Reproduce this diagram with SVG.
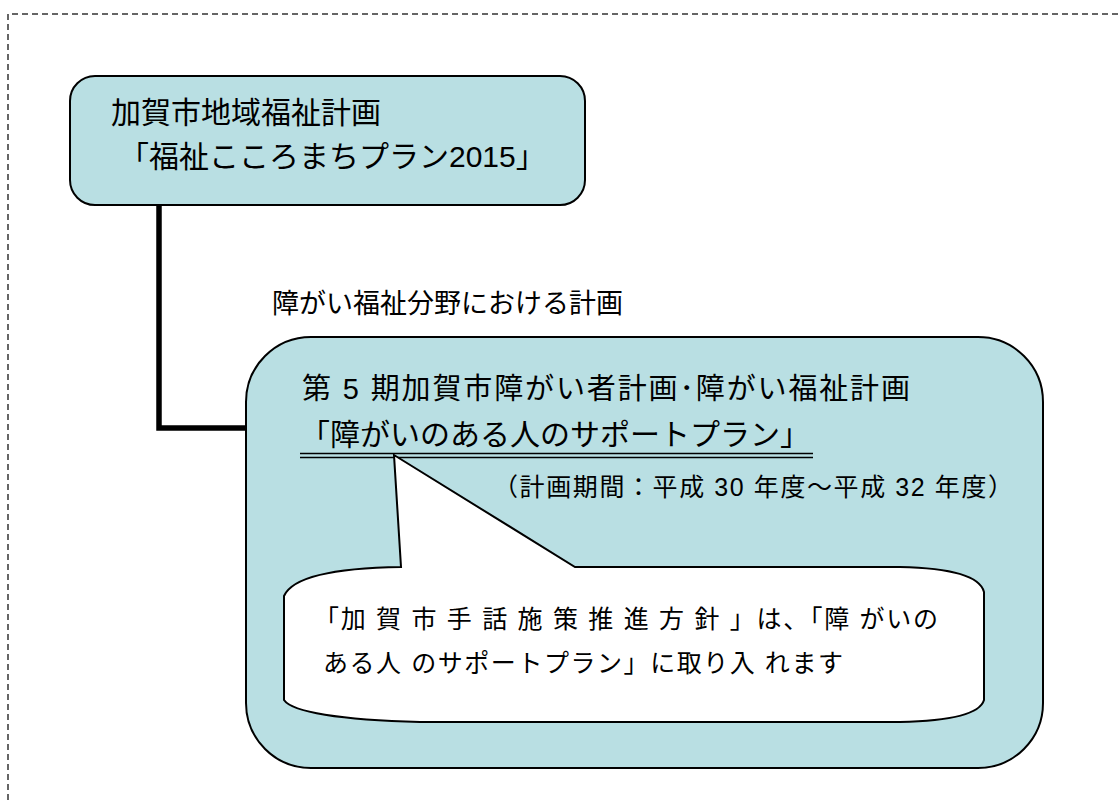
<svg xmlns="http://www.w3.org/2000/svg" width="1118" height="800" viewBox="0 0 1118 800">
<style>
.t{font-family:"Liberation Sans","Noto Sans CJK JP",sans-serif;fill:#000}
.box{fill:#B9DFE3;stroke:#000;stroke-width:2}
</style>
<rect width="1118" height="800" fill="#fff"/>
<path d="M8,800 V14 H1118" fill="none" stroke="#333" stroke-width="1.5" stroke-dasharray="6 4"/>
<g id="connectors">
<path d="M159,205 V428 H246" fill="none" stroke="#000" stroke-width="5.5"/>
</g>
<g id="node-top">
<rect class="box" x="70" y="76" width="515" height="129" rx="25"/>
<text class="t" x="111" y="123" font-size="30">加賀市地域福祉計画</text>
<text class="t" x="119" y="167" font-size="30">「福祉こころまちプラン2015」</text>
</g>
<g id="label">
<text class="t" x="272" y="313" font-size="27">障がい福祉分野における計画</text>
</g>
<g id="node-plan">
<rect class="box" x="246" y="337" width="797" height="431" rx="65"/>
<text class="t" x="302" y="399" font-size="29" textLength="608" lengthAdjust="spacing">第 5 期加賀市障がい者計画･障がい福祉計画</text>
<text class="t" x="300" y="445" font-size="30">「障がいのある人のサポートプラン」</text>
<path d="M300,453.5 H813 M300,457.5 H813" stroke="#000" stroke-width="1.4"/>
<text class="t" x="493" y="496" font-size="25" textLength="520" lengthAdjust="spacing">（計画期間：平成 30 年度～平成 32 年度）</text>
</g>
<g id="node-callout">
<path d="M284,596 C292,578 330,568 401,567 L394,455 L575,567 L900,567 C950,568 980,576 984,592 L984,700 C980,714 950,721 900,722 L420,722 C340,720 292,712 284,700 Z" fill="#fff" stroke="#000" stroke-width="2" stroke-linejoin="miter"/>
<text class="t" x="314" y="628" font-size="25" textLength="624" lengthAdjust="spacing">「加 賀 市 手 話 施 策 推 進 方 針 」は、「障 がいの</text>
<text class="t" x="323" y="672" font-size="25" textLength="520" lengthAdjust="spacing">ある人 のサポートプラン」に取り入 れます</text>
</g>
</svg>
